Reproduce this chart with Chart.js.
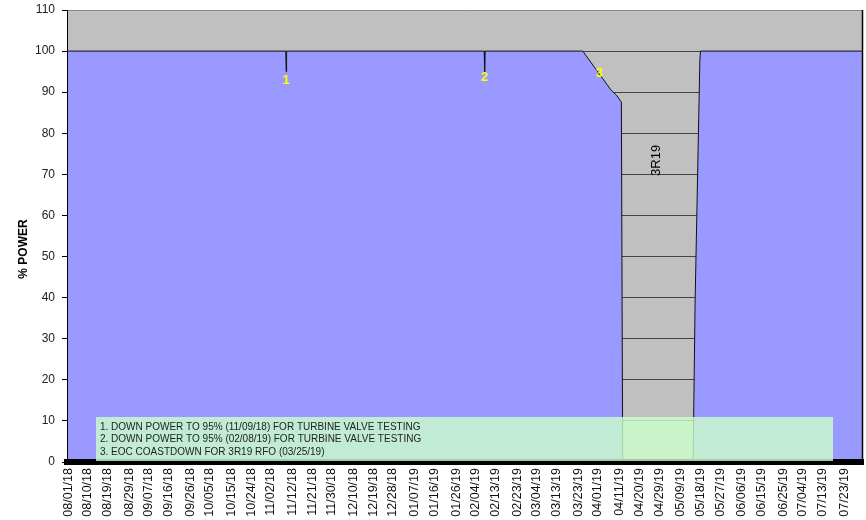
<!DOCTYPE html>
<html>
<head>
<meta charset="utf-8">
<script src="https://cdn.jsdelivr.net/npm/chart.js@4.4.1/dist/chart.umd.min.js"></script>
<style>
  html, body { margin: 0; padding: 0; background: #fff; }
</style>
</head>
<body>
<canvas id="powerChart" width="866" height="520"></canvas>
<script>
// x tick labels (dates shown under the axis)
const tickLabels = ['08/01/18','08/10/18','08/19/18','08/29/18','09/07/18','09/16/18','09/26/18',
  '10/05/18','10/15/18','10/24/18','11/02/18','11/12/18','11/21/18','11/30/18','12/10/18',
  '12/19/18','12/28/18','01/07/19','01/16/19','01/26/19','02/04/19','02/13/19','02/23/19',
  '03/04/19','03/13/19','03/23/19','04/01/19','04/11/19','04/20/19','04/29/19','05/09/19',
  '05/18/19','05/27/19','06/06/19','06/15/19','06/25/19','07/04/19','07/13/19','07/23/19'];

// power history: days after 08/01/18 and % power
const powerDays   = [0, 99.8, 100, 100.2, 190.8, 191, 191.2, 236, 241.3, 249, 251.4, 253.7, 254.3, 286.6, 287.5, 289.7, 290, 364.5];
const powerValues = [100, 100, 95, 100, 100, 95, 100, 100, 96.1, 90.5, 89.3, 87.6, 0, 0, 38.5, 97.8, 100, 100];

// yellow event numbers
const markLabels = ['1', '2', '3'];
const markDays   = [100, 191, 243.6];
const markValues = [92.9, 93.6, 94.6];

// refuel outage label
const outageLabel = '3R19';
const outageDay = 269.7;
const outageValue = 73.4;

// notes in the text box
const noteLines = [
  '1. DOWN POWER TO 95% (11/09/18) FOR TURBINE VALVE TESTING',
  '2. DOWN POWER TO 95% (02/08/19) FOR TURBINE VALVE TESTING',
  '3. EOC COASTDOWN FOR 3R19 RFO (03/25/19)'
];

const yTicks = [0, 10, 20, 30, 40, 50, 60, 70, 80, 90, 100, 110];

const startUTC = Date.UTC(2018, 7, 1);
const dayOf = s => {
  const [m, d, y] = s.split('/').map(Number);
  return (Date.UTC(2000 + y, m - 1, d) - startUTC) / 86400000;
};
const tickDays = tickLabels.map(dayOf);

const FONT = '"Liberation Sans", Arial, sans-serif';

const chartFrame = {
  id: 'chartFrame',
  beforeDraw(chart) {
    const { ctx, chartArea: a } = chart;
    ctx.save();
    ctx.fillStyle = '#C0C0C0';
    ctx.fillRect(a.left, a.top, a.right - a.left, a.bottom - a.top);
    ctx.restore();
  },
  afterDraw(chart) {
    const { ctx, chartArea: a, scales: { x, y } } = chart;
    ctx.save();

    // right edge of plot
    ctx.strokeStyle = '#000';
    ctx.lineWidth = 1.5;
    ctx.beginPath();
    ctx.moveTo(a.right - 0.5, a.top);
    ctx.lineTo(a.right - 0.5, a.bottom);
    ctx.stroke();

    // event numbers
    ctx.font = 'bold 13px ' + FONT;
    ctx.fillStyle = '#FFFF00';
    ctx.textAlign = 'center';
    ctx.textBaseline = 'middle';
    markLabels.forEach((t, i) => {
      ctx.fillText(t, x.getPixelForValue(markDays[i]), y.getPixelForValue(markValues[i]));
    });

    // outage label, vertical
    ctx.save();
    ctx.translate(x.getPixelForValue(outageDay), y.getPixelForValue(outageValue));
    ctx.rotate(-Math.PI / 2);
    ctx.font = '13px ' + FONT;
    ctx.fillStyle = '#000';
    ctx.fillText(outageLabel, 0, 0);
    ctx.restore();

    // notes box
    ctx.fillStyle = 'rgba(204, 255, 204, 0.8)';
    ctx.fillRect(96, 417, 737, 44);
    ctx.font = '10px ' + FONT;
    ctx.fillStyle = '#222';
    ctx.textAlign = 'left';
    noteLines.forEach((t, i) => ctx.fillText(t, 100, 427 + i * 12.5));

    // y axis title
    ctx.save();
    ctx.translate(24, 249);
    ctx.rotate(-Math.PI / 2);
    ctx.font = 'bold 12px ' + FONT;
    ctx.fillStyle = '#000';
    ctx.textAlign = 'center';
    ctx.fillText('% POWER', 0, 0);
    ctx.restore();

    ctx.restore();
  }
};

new Chart(document.getElementById('powerChart'), {
  type: 'line',
  data: {
    datasets: [{
      data: powerDays.map((d, i) => ({ x: d, y: powerValues[i] })),
      borderColor: '#111',
      borderWidth: 1,
      backgroundColor: '#9999FF',
      fill: 'origin',
      pointRadius: 0,
      tension: 0
    }]
  },
  options: {
    responsive: false,
    animation: false,
    layout: { padding: { top: 10, right: 3, left: 0, bottom: 0 } },
    plugins: { legend: { display: false }, tooltip: { enabled: false } },
    scales: {
      x: {
        type: 'linear',
        min: -0.5,
        max: 364.5,
        afterBuildTicks: s => { s.ticks = tickDays.map(v => ({ value: v })); },
        afterFit: s => { s.height = 58; s.paddingLeft = 0; s.paddingRight = 0; },
        grid: { display: false, drawTicks: false },
        border: { display: true, color: '#000', width: 6, z: 1 },
        ticks: {
          autoSkip: false,
          minRotation: 90,
          maxRotation: 90,
          padding: 6,
          color: '#111',
          font: { family: FONT, size: 12.5 },
          callback: (v, i) => tickLabels[i]
        }
      },
      y: {
        min: 0,
        max: 110,
        afterBuildTicks: s => { s.ticks = yTicks.map(v => ({ value: v })); },
        afterFit: s => { s.width = 67; s.paddingTop = 0; s.paddingBottom = 0; },
        grid: {
          color: c => (c.tick && c.tick.value === 110 ? '#888' : '#444'),
          tickColor: '#000',
          tickLength: 5,
          lineWidth: 1
        },
        border: { display: true, color: '#000', width: 1, z: 1 },
        ticks: {
          padding: 7,
          color: '#222',
          font: { family: FONT, size: 12 }
        }
      }
    }
  },
  plugins: [chartFrame]
});
</script>
</body>
</html>
